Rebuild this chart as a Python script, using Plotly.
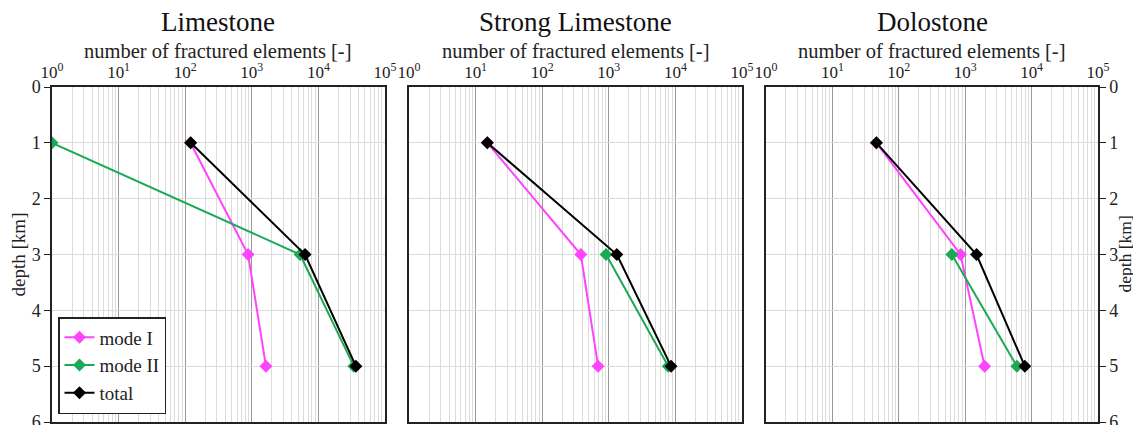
import plotly.graph_objects as go

depths = [1, 3, 5]
panels = ["Limestone", "Strong Limestone", "Dolostone"]

lime_mode1 = [120, 880, 1630]
lime_mode2 = [1, 5300, 34000]
lime_total = [121, 6300, 36500]

strong_mode1 = [15, 380, 690]
strong_mode2 = [None, 910, 7800]
strong_total = [15, 1320, 8600]

dolo_mode1 = [46, 850, 1960]
dolo_mode2 = [None, 630, 6000]
dolo_total = [46, 1480, 7900]

series_names = ["mode I", "mode II", "total"]
series_colors = ["#ff44ff", "#1aaa55", "#000000"]

data = [
    [lime_mode1, lime_mode2, lime_total],
    [strong_mode1, strong_mode2, strong_total],
    [dolo_mode1, dolo_mode2, dolo_total],
]

xtick_vals = [1, 10, 100, 1000, 10000, 100000]
xtick_text = ["10<sup>0</sup>", "10<sup>1</sup>", "10<sup>2</sup>", "10<sup>3</sup>", "10<sup>4</sup>", "10<sup>5</sup>"]
minor_vals = [m * 10 ** d for d in range(0, 5) for m in range(2, 10)]
ytick_vals = [0, 1, 2, 3, 4, 5, 6]

W, H = 1141, 425
OFF = 8  # page body margin
TOP, BOT = 87 - OFF, H - (422 - OFF)
PH = H - TOP - BOT
domains = [((52 - OFF) / W, (385 - OFF) / W), ((409 - OFF) / W, (742 - OFF) / W), ((766 - OFF) / W, (1098 - OFF) / W)]
FONT = "Liberation Serif, Times New Roman, serif"

fig = go.Figure()
for i, (vals, name) in enumerate(zip(data, panels)):
    xa = "x" if i == 0 else f"x{i+1}"
    ya = "y" if i == 0 else f"y{i+1}"
    for j, s in enumerate(vals):
        fig.add_trace(go.Scatter(
            x=s, y=depths, xaxis=xa, yaxis=ya, mode="lines+markers",
            name=series_names[j], showlegend=(i == 0),
            line=dict(color=series_colors[j], width=2),
            marker=dict(symbol="diamond", size=10, color=series_colors[j]),
        ))

layout = dict(
    width=W, height=H,
    margin=dict(l=0, r=0, t=TOP, b=BOT, autoexpand=False),
    paper_bgcolor="white", plot_bgcolor="white",
    font=dict(family=FONT, color="#222", size=17),
    legend=dict(x=(58 - OFF) / W, y=8 / PH, xanchor="left", yanchor="bottom",
                bordercolor="#222", borderwidth=1.5, bgcolor="white",
                font=dict(size=19, family=FONT, color="#222"), tracegroupgap=0,
                itemwidth=30),
    annotations=[],
)

for i in range(3):
    xk = "xaxis" if i == 0 else f"xaxis{i+1}"
    yk = "yaxis" if i == 0 else f"yaxis{i+1}"
    yanchor_name = "y" if i == 0 else f"y{i+1}"
    xanchor_name = "x" if i == 0 else f"x{i+1}"
    layout[xk] = dict(
        type="log", domain=list(domains[i]), anchor=yanchor_name, side="top",
        range=[0, 5], tickvals=xtick_vals, ticktext=xtick_text, ticks="",
        showgrid=True, gridcolor="#9a9a9a", gridwidth=1.2,
        minor=dict(tickvals=minor_vals, showgrid=True, gridcolor="#dcdcdc", gridwidth=1, ticks=""),
        showline=True, linecolor="#222", linewidth=1.5, mirror=True, automargin=False,
        zeroline=False, tickfont=dict(size=17, family=FONT, color="#222"),
    )
    yd = dict(
        range=[6, 0], anchor=xanchor_name, domain=[0, 1], automargin=False,
        tickvals=ytick_vals, showgrid=True, gridcolor="#dcdcdc", gridwidth=1,
        showline=True, linecolor="#222", linewidth=1.5, mirror=True,
        zeroline=False, tickfont=dict(size=18, family=FONT, color="#222"),
    )
    if i == 0:
        yd.update(ticks="outside", ticklen=6, tickcolor="#222", side="left",
                  title=dict(text="depth [km]", font=dict(size=19, family=FONT, color="#222"), standoff=12))
    elif i == 2:
        yd.update(ticks="outside", ticklen=6, tickcolor="#222", side="right")
    else:
        yd.update(showticklabels=False, ticks="")
    layout[yk] = yd
    cx = (domains[i][0] + domains[i][1]) / 2
    layout["annotations"].append(dict(
        text=panels[i], x=cx, y=1 + (87 - 22) / PH, xref="paper", yref="paper",
        xanchor="center", yanchor="middle", showarrow=False,
        font=dict(size=27, family=FONT, color="#111")))
    layout["annotations"].append(dict(
        text="number of fractured elements [-]", x=cx, y=1 + (87 - 51) / PH,
        xref="paper", yref="paper", xanchor="center", yanchor="middle", showarrow=False,
        font=dict(size=20.5, family=FONT, color="#222")))

layout["annotations"].append(dict(
    text="depth [km]", x=(1124 - OFF) / W, y=0.5, xref="paper", yref="paper",
    xanchor="center", yanchor="middle", textangle=-90, showarrow=False,
    font=dict(size=17.5, family=FONT, color="#222")))

fig.update_layout(**layout)
fig.write_html("out.html")
